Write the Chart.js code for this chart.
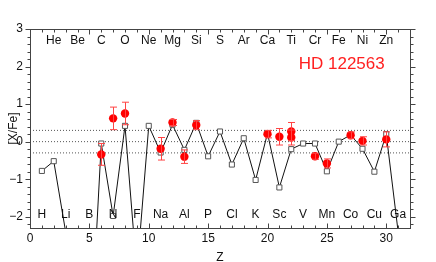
<!DOCTYPE html>
<html>
<head>
<meta charset="utf-8">
<script src="https://cdn.jsdelivr.net/npm/chart.js@4"></script>
<style>
  html, body { margin: 0; padding: 0; background: #fff; }
  #wrap { width: 436px; height: 262px; }
</style>
</head>
<body>
<div id="wrap"><canvas id="myCanvas"></canvas></div>
<script>
// element symbols and atomic numbers
var elements = ['H','He','Li','Be','B','C','N','O','F','Ne','Na','Mg','Al','Si','P','S','Cl','Ar','K','Ca','Sc','Ti','V','Cr','Mn','Fe','Co','Ni','Cu','Zn','Ga'];
var atomicZ = [1,2,3,4,5,6,7,8,9,10,11,12,13,14,15,16,17,18,19,20,21,22,23,24,25,26,27,28,29,30,31];
// model curve (open squares)
var modelVal = [-0.78,-0.52,-2.4,-4.0,-6.0,-0.05,-1.98,0.42,-3.5,0.42,-0.29,0.45,-0.22,0.5,-0.39,0.27,-0.61,0.09,-1.02,0.22,-1.22,-0.2,-0.05,-0.05,-0.79,0.0,0.18,-0.19,-0.8,0.2,-2.4];
// observed abundances HD 122563 (red)
var obsZ = [6,7,8,11,12,13,14,20,21,22,22,24,25,27,28,30];
var obsVal = [-0.34,0.62,0.75,-0.19,0.51,-0.4,0.44,0.2,0.13,0.27,0.11,-0.39,-0.58,0.17,0.02,0.06];
var obsErr = [0.29,0.3,0.3,0.3,0.08,0.18,0.12,0.1,0.22,0.24,0.2,0.08,0.12,0.09,0.11,0.2];
// reference lines
var refLines = [0.3, 0, -0.3];
var xTicks = [0,5,10,15,20,25,30];
var yTicks = [-2,-1,0,1,2,3];

var FONT = 'Liberation Sans, Arial, sans-serif';

var modelPts = atomicZ.map(function(z, i) { return {x: z, y: modelVal[i]}; });
var obsPts = obsZ.map(function(z, i) { return {x: z, y: obsVal[i]}; });

var datasets = [];
refLines.forEach(function(v) {
  datasets.push({
    type: 'line', data: [{x: 0, y: v}, {x: 32, y: v}], order: 3,
    borderColor: '#555', borderWidth: 1, borderDash: [1, 2],
    pointRadius: 0, fill: false
  });
});
datasets.push({
  type: 'line', data: modelPts, order: 2,
  borderColor: '#111', borderWidth: 1, tension: 0,
  pointStyle: 'rect', pointRadius: 3.6,
  pointBackgroundColor: '#fff', pointBorderColor: '#555', pointBorderWidth: 1
});
datasets.push({
  type: 'scatter', data: obsPts, order: 0,
  pointRadius: 4.2, pointBackgroundColor: '#ff0000', pointBorderWidth: 0
});

// error bars, element labels, frame + ticks
var extras = {
  id: 'extras',
  afterDatasetsDraw: function(chart) {
    var ctx = chart.ctx, xs = chart.scales.x, ys = chart.scales.y, a = chart.chartArea;
    ctx.save();
    // error bars
    ctx.strokeStyle = '#ff4444';
    ctx.lineWidth = 1;
    obsZ.forEach(function(z, i) {
      var px = Math.round(xs.getPixelForValue(z)) + 0.5;
      var top = ys.getPixelForValue(obsVal[i] + obsErr[i]);
      var bot = ys.getPixelForValue(obsVal[i] - obsErr[i]);
      ctx.beginPath();
      ctx.moveTo(px, top); ctx.lineTo(px, bot);
      ctx.moveTo(px - 3.5, top); ctx.lineTo(px + 3.5, top);
      ctx.moveTo(px - 3.5, bot); ctx.lineTo(px + 3.5, bot);
      ctx.stroke();
    });
    // element names
    ctx.fillStyle = '#111';
    ctx.font = '12px ' + FONT;
    ctx.textAlign = 'center';
    ctx.textBaseline = 'middle';
    elements.forEach(function(el, i) {
      var z = atomicZ[i];
      var yv = (z % 2 === 0) ? 2.69 : -1.95;
      ctx.fillText(el, xs.getPixelForValue(z), ys.getPixelForValue(yv));
    });
    // star name
    ctx.fillStyle = '#ff2020';
    ctx.font = '17px ' + FONT;
    ctx.fillText('HD 122563', xs.getPixelForValue(26.25), ys.getPixelForValue(2.05));
    // frame
    ctx.strokeStyle = '#444';
    ctx.lineWidth = 1;
    var L = Math.round(a.left) + 0.5, R = Math.round(a.right) + 0.5;
    var T = Math.round(a.top) + 0.5, B = Math.round(a.bottom) + 0.5;
    ctx.strokeRect(L, T, R - L, B - T);
    ctx.beginPath();
    // x ticks: inward on top and bottom
    for (var xv = 0; xv <= 32; xv++) {
      var px = Math.round(xs.getPixelForValue(xv)) + 0.5;
      var len = (xv % 5 === 0) ? 5 : 3;
      ctx.moveTo(px, B); ctx.lineTo(px, B - len);
      ctx.moveTo(px, T); ctx.lineTo(px, T + len);
    }
    // y ticks: outward on left and right
    for (var k = -11; k <= 15; k++) {
      var v = k * 0.2;
      var py = Math.round(ys.getPixelForValue(v)) + 0.5;
      var ln = (k % 5 === 0) ? 5 : 3;
      ctx.moveTo(L, py); ctx.lineTo(L - ln, py);
      ctx.moveTo(R, py); ctx.lineTo(R + ln, py);
    }
    ctx.stroke();
    ctx.restore();
  }
};

function fmt(v) { return v < 0 ? '\u2212' + Math.abs(v) : String(v); }

var chart = new Chart(document.querySelector('#myCanvas').getContext('2d'), {
  type: 'line',
  data: { datasets: datasets },
  options: {
    responsive: true,
    maintainAspectRatio: false,
    animation: false,
    layout: { padding: { left: 0, right: 26, top: 29, bottom: 0 } },
    plugins: { legend: { display: false }, tooltip: { enabled: false } },
    scales: {
      x: {
        type: 'linear', min: 0, max: 32,
        grid: { display: false, drawTicks: false },
        border: { display: false },
        afterBuildTicks: function(s) { s.ticks = xTicks.map(function(v) { return {value: v}; }); },
        afterFit: function(s) { s.height = 34; },
        ticks: { padding: 3, color: '#111', font: { family: FONT, size: 12 }, maxRotation: 0,
                 callback: function(v) { return fmt(v); } },
        title: { display: true, text: 'Z', color: '#111', font: { family: FONT, size: 12 }, padding: { top: 0, bottom: -3 } }
      },
      y: {
        type: 'linear', min: -2.3, max: 3,
        grid: { display: false, drawTicks: false },
        border: { display: false },
        afterBuildTicks: function(s) { s.ticks = yTicks.map(function(v) { return {value: v}; }); },
        afterFit: function(s) { s.width = 30; },
        ticks: { padding: 7, color: '#111', font: { family: FONT, size: 12 },
                 callback: function(v) { return fmt(v); } },
        title: { display: true, text: '[X/Fe]', color: '#111', font: { family: FONT, size: 12 }, padding: { top: 6, bottom: 0 } }
      }
    }
  },
  plugins: [extras]
});
</script>
</body>
</html>
